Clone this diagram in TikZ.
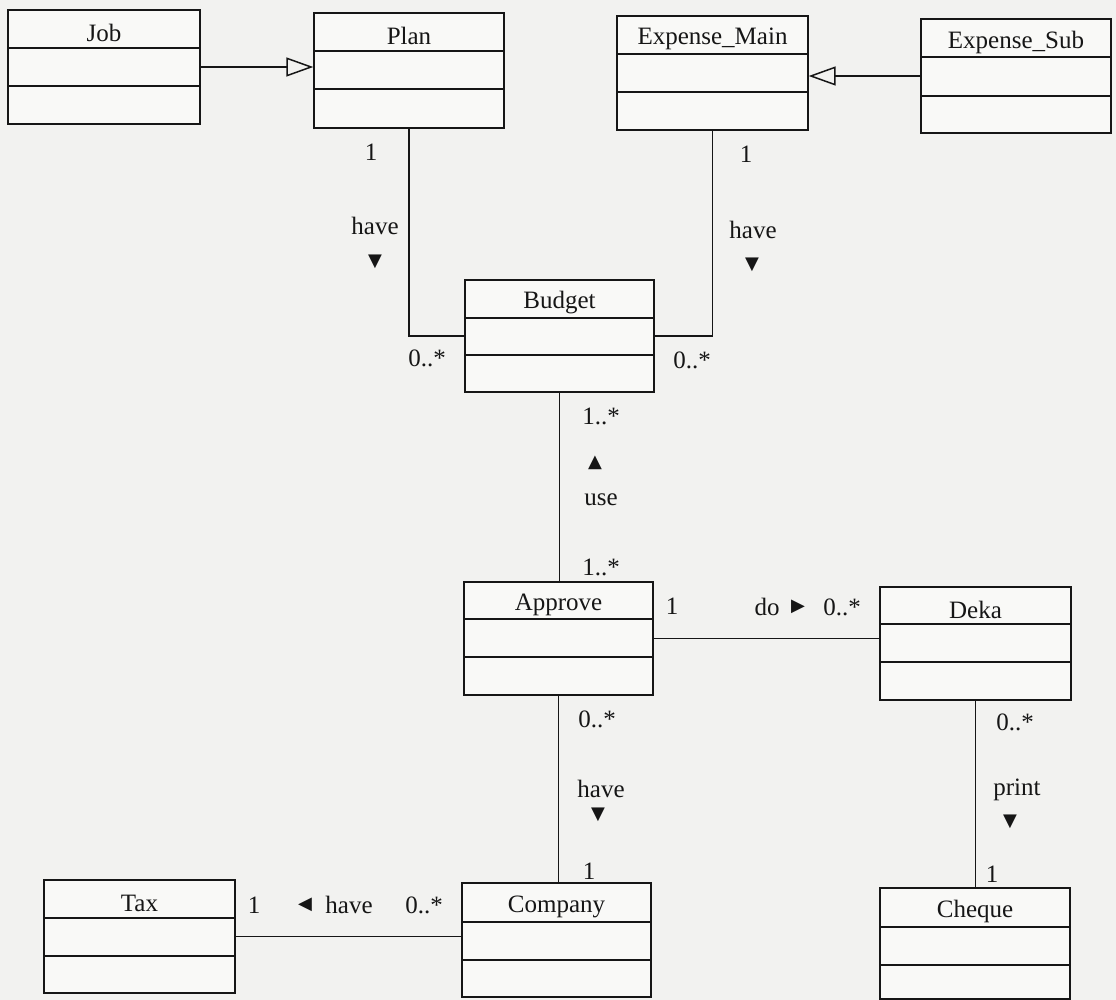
\documentclass[tikz,border=0pt]{standalone}
\usepackage{fontspec}
\setmainfont{Liberation Serif}
\newfontfamily\symfont{DejaVu Sans}
\usetikzlibrary{arrows.meta,calc}
\definecolor{page}{RGB}{242,242,240}
\definecolor{boxfill}{RGB}{249,249,247}
\definecolor{ink}{RGB}{22,22,22}
\tikzset{
 cls/.style={draw=ink, fill=boxfill, line width=1.4pt, inner sep=0pt, rectangle},
 divider/.style={draw=ink, line width=1.4pt},
 ctitle/.style={font=\fontsize{25}{27}\selectfont, text=ink, inner sep=0pt},
 lbl/.style={font=\fontsize{25}{27}\selectfont, text=ink, inner sep=0pt},
 tri/.style={font=\symfont\fontsize{18}{20}\selectfont, text=ink, inner sep=0pt},
 assoc/.style={draw=ink, line width=1.6pt},
 gen/.style={draw=ink, line width=1.6pt, -{Triangle[open, length=27pt, width=19pt, line width=1.5pt]}},
}
\newcommand{\umlbox}[8]{%
  \node[cls, minimum width={(#4)-(#2)}, minimum height={(#5)-(#3)}] (#1) at ({((#2)+(#4))/2},{((#3)+(#5))/2}) {};
  \draw[divider] (#2,#6) -- (#4,#6);
  \draw[divider] (#2,#7) -- (#4,#7);
  \node[ctitle] (#1-t) at ({((#2)+(#4))/2},{((#3)+(#6))/2+4}) {#8};
}
\begin{document}
\begin{tikzpicture}[x=1pt,y=-1pt]
\fill[page] (0,0) rectangle (1116,1000);
\useasboundingbox (0,0) rectangle (1116,1000);

\umlbox{Job}{8}{10}{200}{124}{48}{86}{Job}
\umlbox{Plan}{314}{13}{504}{128}{51}{89}{Plan}
\umlbox{EM}{617}{16}{808}{130}{54}{92}{Expense\_Main}
\umlbox{ES}{921}{19}{1111}{133}{57}{96}{Expense\_Sub}
\umlbox{Budget}{465}{280}{654}{392}{318}{355}{Budget}
\umlbox{Approve}{464}{582}{653}{695}{619}{657}{Approve}
\umlbox{Deka}{880}{587}{1071}{700}{624}{662}{Deka}
\umlbox{Tax}{44}{880}{235}{993}{918}{956}{Tax}
\umlbox{Company}{462}{883}{651}{997}{922}{960}{Company}
\umlbox{Cheque}{880}{888}{1070}{999}{927}{965}{Cheque}

% generalizations
\draw[gen] (Job.east) -- (Job.east -| Plan.west);
\draw[gen] (ES.west) -- (ES.west -| EM.east);

% associations
\draw[assoc] (Plan.south) |- (Budget.west);
\draw[assoc] (EM.south) |- (Budget.east);
\draw[assoc] (Budget.south) -- (Budget.south |- Approve.north);
\draw[assoc] (Approve.east) -- (Approve.east -| Deka.west);
\draw[assoc] (Approve.south) -- (Approve.south |- Company.north);
\draw[assoc] (Tax.east) -- (Tax.east -| Company.west);
\draw[assoc] (Deka.south) -- (Deka.south |- Cheque.north);

% Plan - Budget labels
\node[lbl] (l1) at (371,152) {1};
\node[lbl] (l2) at (375,226) {have};
\node[tri] (l3) at (375,262) {▼};
\node[lbl] (l4) at (427,358) {0..*};
% Expense_Main - Budget labels
\node[lbl] (l5) at (746,154) {1};
\node[lbl] (l6) at (753,230) {have};
\node[tri] (l7) at (752,265) {▼};
\node[lbl] (l8) at (692,360) {0..*};
% Budget - Approve labels
\node[lbl] (l9) at (601,416) {1..*};
\node[tri] (l10) at (595,463) {▲};
\node[lbl] (l11) at (601,500) {use};
\node[lbl] (l12) at (601,567) {1..*};
% Approve - Deka labels
\node[lbl] (l13) at (672,606) {1};
\node[lbl] (l14) at (767,607) {do};
\node[tri] (l15) at (798,607) {▶};
\node[lbl] (l16) at (842,607) {0..*};
% Approve - Company labels
\node[lbl] (l17) at (597,719) {0..*};
\node[lbl] (l18) at (601,789) {have};
\node[tri] (l19) at (598,815) {▼};
\node[lbl] (l20) at (589,871) {1};
% Deka - Cheque labels
\node[lbl] (l21) at (1015,722) {0..*};
\node[lbl] (l22) at (1017,790) {print};
\node[tri] (l23) at (1010,822) {▼};
\node[lbl] (l24) at (992,874) {1};
% Tax - Company labels
\node[lbl] (l25) at (254,905) {1};
\node[tri] (l26) at (305,905) {◀};
\node[lbl] (l27) at (349,905) {have};
\node[lbl] (l28) at (424,905) {0..*};
\end{tikzpicture}
\end{document}
